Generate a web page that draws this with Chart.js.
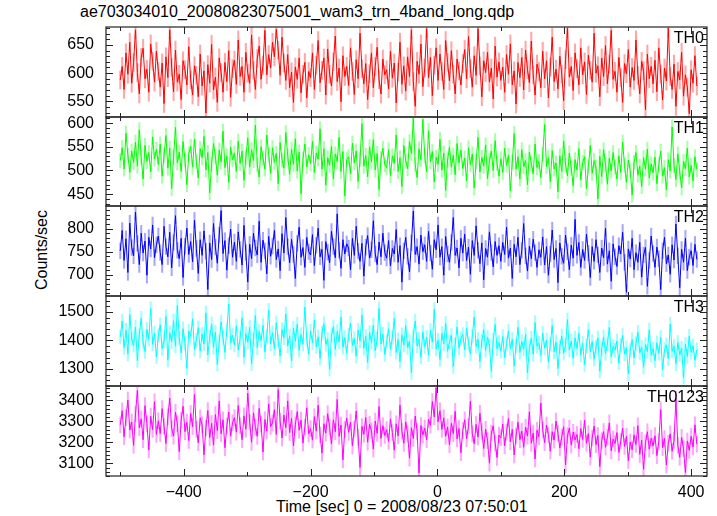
<!DOCTYPE html>
<html>
<head>
<meta charset="utf-8">
<script src="https://cdn.jsdelivr.net/npm/chart.js@4.4.1/dist/chart.umd.min.js"></script>
<style>
  html, body { margin: 0; padding: 0; background: #fff; }
  #wrap { position: relative; width: 717px; height: 516px; overflow: hidden; font-family: "Liberation Sans", Arial, sans-serif; }
  #wrap canvas { position: absolute; left: 0; }
  .txt { position: absolute; white-space: nowrap; color: #000; font-size: 16px; line-height: 18px; }
</style>
</head>
<body>
<div id="wrap">
  <div class="txt" style="left:80px; top:3px;">ae703034010_20080823075001_wam3_trn_4band_long.qdp</div>
  <div class="txt" style="left:42px; top:250px; transform: translate(-50%, -50%) rotate(-90deg);">Counts/sec</div>
  <div class="txt" style="left:276px; top:498px;">Time [sec] 0 = 2008/08/23 07:50:01</div>
</div>
<script>
// bins: 3 s wide, first bin at -500 s
const binStart = -500
const binSize = 3

const th0 = [
  588, 612, 571, 636, 598, 655, 582, 619, 677, 601, 563, 628, 644, 590, 607, 566, 652, 621, 584, 639,
  603, 575, 618, 546, 629, 592, 677, 610, 567, 641, 584, 598, 553, 622, 606, 579, 647, 588, 561, 613,
  596, 558, 634, 577, 604, 529, 615, 582, 651, 570, 593, 548, 627, 601, 566, 619, 585, 640, 557, 608,
  623, 580, 659, 594, 612, 566, 637, 600, 582, 668, 605, 571, 626, 648, 589, 614, 676, 597, 633, 609,
  655, 629, 678, 641, 596, 664, 618, 587, 633, 574, 602, 548, 611, 589, 627, 565, 598, 619, 556, 603,
  592, 636, 571, 614, 658, 583, 605, 627, 561, 643, 598, 577, 620, 666, 585, 609, 549, 631, 594, 612,
  578, 645, 603, 562, 624, 590, 671, 608, 581, 617, 553, 599, 636, 574, 612, 646, 588, 563, 625, 597,
  606, 572, 639, 591, 618, 547, 602, 655, 580, 613, 568, 629, 594, 677, 585, 541, 621, 598, 652, 576,
  609, 679, 592, 628, 560, 614, 645, 587, 634, 603, 571, 658, 619, 586, 640, 598, 563, 625, 604, 579,
  617, 642, 590, 665, 608, 575, 631, 596, 679, 613, 558, 622, 601, 637, 584, 609, 554, 648, 593, 620,
  587, 611, 566, 633, 598, 652, 579, 604, 545, 619, 592, 628, 570, 641, 606, 583, 657, 597, 561, 616,
  603, 574, 639, 590, 622, 556, 611, 664, 585, 607, 572, 630, 598, 551, 624, 680, 593, 612, 569, 636,
  608, 579, 645, 597, 620, 562, 632, 605, 584, 671, 600, 613, 558, 627, 594, 649, 581, 616, 676, 589,
  603, 566, 628, 592, 548, 617, 599, 642, 575, 610, 587, 659, 596, 563, 621, 604, 535, 634, 590, 612,
  581, 623, 567, 645, 598, 552, 609, 586, 680, 594, 571, 616, 541, 603, 588, 637, 559, 597, 575, 528,
  606, 582, 631, 577
]
const th1 = [
  521, 548, 503, 579, 532, 496, 541, 517, 560, 509, 586, 527, 482, 553, 519, 538, 497, 571, 524, 545,
  513, 556, 488, 532, 574, 505, 547, 462, 528, 591, 516, 539, 498, 561, 522, 470, 535, 551, 507, 566,
  519, 484, 546, 527, 572, 501, 538, 453, 514, 557, 529, 490, 543, 518, 583, 506, 531, 475, 549, 523,
  537, 498, 562, 515, 541, 479, 528, 569, 507, 544, 521, 596, 512, 486, 550, 526, 503, 575, 533, 494,
  548, 517, 536, 472, 559, 522, 505, 580, 531, 492, 545, 513, 567, 499, 539, 451, 524, 556, 508, 533,
  515, 562, 496, 537, 524, 588, 503, 546, 469, 527, 511, 551, 482, 535, 519, 570, 498, 540, 446, 523,
  529, 493, 558, 516, 541, 477, 523, 599, 509, 532, 487, 550, 518, 565, 501, 536, 460, 525, 547, 512,
  506, 544, 489, 531, 515, 575, 498, 527, 466, 553, 520, 504, 561, 536, 611, 512, 485, 546, 523, 608,
  531, 497, 584, 519, 540, 476, 528, 513, 566, 501, 537, 458, 522, 549, 507, 532, 491, 557, 516, 543,
  504, 526, 478, 548, 512, 535, 463, 519, 570, 497, 528, 509, 554, 483, 521, 541, 500, 563, 515, 488,
  525, 496, 547, 511, 532, 457, 518, 578, 503, 529, 482, 544, 508, 521, 470, 539, 514, 493, 556, 506,
  519, 485, 534, 597, 508, 527, 476, 542, 503, 516, 455, 531, 498, 562, 512, 489, 537, 505, 468, 523,
  501, 546, 480, 517, 529, 462, 508, 553, 494, 521, 506, 440, 530, 487, 544, 513, 471, 526, 499, 538,
  507, 482, 531, 496, 560, 511, 475, 522, 500, 448, 517, 538, 490, 509, 466, 527, 503, 545, 484, 514,
  495, 528, 472, 512, 541, 488, 506, 459, 523, 499, 592, 510, 481, 535, 497, 463, 519, 504, 547, 486,
  511, 478, 529, 502
]
const th2 = [
  752, 796, 731, 778, 705, 812, 759, 741, 836, 768, 722, 790, 747, 773, 699, 781, 756, 808, 737, 765,
  784, 748, 722, 805, 761, 739, 792, 715, 770, 828, 753, 735, 779, 694, 762, 801, 744, 772, 728, 818,
  757, 703, 776, 742, 795, 751, 668, 769, 733, 811, 760, 725, 786, 839, 746, 774, 710, 763, 799, 738,
  771, 729, 793, 755, 721, 807, 748, 684, 766, 735, 790, 758, 743, 816, 727, 775, 752, 702, 783, 740,
  762, 796, 733, 756, 709, 789, 747, 824, 761, 726, 777, 744, 692, 768, 803, 738, 759, 716, 781, 750,
  743, 787, 720, 764, 801, 739, 755, 688, 772, 749, 726, 794, 761, 737, 832, 753, 714, 776, 745, 767,
  758, 711, 779, 742, 805, 751, 729, 768, 697, 760, 785, 736, 754, 817, 745, 722, 771, 739, 790, 748,
  736, 774, 719, 757, 745, 798, 727, 763, 684, 752, 781, 740, 706, 769, 838, 744, 761, 723, 786, 750,
  765, 729, 794, 747, 712, 776, 754, 808, 738, 761, 699, 783, 745, 727, 770, 824, 742, 758, 715, 779,
  747, 788, 731, 760, 701, 774, 742, 806, 753, 724, 769, 689, 757, 738, 793, 748, 717, 772, 742, 763,
  729, 770, 744, 803, 736, 758, 692, 766, 739, 781, 722, 753, 811, 741, 708, 762, 735, 777, 748, 716,
  754, 738, 782, 721, 761, 699, 745, 797, 733, 757, 683, 769, 740, 725, 786, 750, 711, 764, 736, 820,
  742, 770, 716, 755, 731, 788, 747, 694, 761, 729, 776, 743, 705, 758, 737, 801, 723, 752, 686, 767,
  739, 718, 763, 745, 792, 727, 662, 756, 734, 779, 711, 748, 727, 770, 695, 743, 759, 675, 731, 784,
  746, 716, 760, 735, 668, 752, 781, 724, 743, 701, 765, 732, 810, 741, 672, 755, 727, 779, 709, 738,
  752, 720, 766, 733
]
const th3 = [
  1412, 1468, 1375, 1436, 1352, 1491, 1405, 1383, 1447, 1329, 1420, 1478, 1394, 1361, 1439, 1404, 1512, 1386, 1426, 1343,
  1417, 1455, 1372, 1398, 1484, 1331, 1427, 1395, 1469, 1380, 1523, 1408, 1356, 1441, 1390, 1302, 1433, 1414, 1476, 1369,
  1401, 1445, 1363, 1422, 1387, 1497, 1349, 1411, 1458, 1376, 1429, 1316, 1396, 1465, 1410, 1358, 1437, 1528, 1392, 1419,
  1384, 1451, 1366, 1408, 1479, 1341, 1424, 1393, 1446, 1318, 1402, 1487, 1374, 1431, 1399, 1453, 1360, 1415, 1506, 1388,
  1427, 1371, 1462, 1400, 1345, 1438, 1409, 1493, 1381, 1416, 1328, 1443, 1397, 1457, 1365, 1421, 1388, 1517, 1404, 1352,
  1433, 1392, 1471, 1378, 1413, 1337, 1426, 1459, 1386, 1404, 1299, 1418, 1448, 1369, 1431, 1395, 1482, 1376, 1410, 1355,
  1419, 1461, 1382, 1407, 1345, 1436, 1398, 1489, 1372, 1415, 1323, 1428, 1393, 1454, 1364, 1405, 1512, 1387, 1422, 1350,
  1396, 1441, 1369, 1411, 1477, 1358, 1403, 1326, 1420, 1384, 1452, 1375, 1397, 1287, 1416, 1468, 1381, 1404, 1341, 1430,
  1378, 1412, 1349, 1436, 1394, 1509, 1370, 1401, 1333, 1425, 1388, 1460, 1362, 1395, 1418, 1308, 1386, 1447, 1374, 1406,
  1421, 1367, 1443, 1390, 1352, 1415, 1482, 1379, 1404, 1326, 1397, 1438, 1365, 1411, 1383, 1292, 1402, 1456, 1371, 1393,
  1362, 1414, 1340, 1389, 1433, 1371, 1404, 1310, 1382, 1446, 1358, 1397, 1369, 1421, 1286, 1375, 1408, 1352, 1463, 1380,
  1391, 1347, 1426, 1373, 1401, 1324, 1387, 1452, 1360, 1395, 1301, 1378, 1416, 1355, 1384, 1473, 1366, 1398, 1337, 1409,
  1372, 1425, 1349, 1390, 1315, 1381, 1438, 1361, 1396, 1334, 1377, 1409, 1292, 1370, 1412, 1354, 1388, 1446, 1343, 1379,
  1366, 1398, 1321, 1383, 1418, 1352, 1374, 1283, 1367, 1403, 1338, 1389, 1429, 1357, 1376, 1306, 1385, 1361, 1437, 1348,
  1371, 1329, 1392, 1355, 1411, 1297, 1368, 1384, 1336, 1457, 1362, 1379, 1318, 1393, 1350, 1373, 1270, 1387, 1344, 1415,
  1358, 1381, 1330, 1367
]
const th0123 = [
  3284, 3351, 3227, 3318, 3402, 3259, 3297, 3186, 3336, 3448, 3270, 3312, 3213, 3375, 3289, 3164, 3325, 3261, 3394, 3238,
  3303, 3242, 3361, 3277, 3195, 3322, 3411, 3266, 3230, 3344, 3289, 3156, 3307, 3372, 3251, 3296, 3209, 3338, 3275, 3429,
  3262, 3198, 3317, 3284, 3141, 3269, 3352, 3223, 3291, 3187, 3333, 3256, 3398, 3241, 3308, 3175, 3279, 3345, 3230, 3294,
  3318, 3249, 3376, 3280, 3213, 3327, 3263, 3435, 3296, 3201, 3341, 3272, 3229, 3362, 3287, 3154, 3309, 3254, 3384, 3276,
  3293, 3356, 3238, 3452, 3302, 3221, 3331, 3270, 3398, 3247, 3315, 3183, 3284, 3347, 3258, 3306, 3197, 3273, 3365, 3240,
  3266, 3211, 3323, 3254, 3378, 3236, 3149, 3289, 3244, 3337, 3272, 3192, 3308, 3251, 3405, 3229, 3283, 3117, 3262, 3316,
  3248, 3297, 3183, 3264, 3350, 3225, 3081, 3276, 3239, 3319, 3201, 3287, 3256, 3168, 3302, 3243, 3371, 3219, 3280, 3233,
  3261, 3205, 3312, 3247, 3163, 3289, 3231, 3378, 3254, 3196, 3298, 3240, 3125, 3270, 3219, 3326, 3252, 3054, 3281, 3236,
  3268, 3213, 3310, 3282, 3395, 3322, 3461, 3298, 3351, 3262, 3317, 3229, 3274, 3189, 3291, 3242, 3348, 3217, 3266, 3151,
  3257, 3308, 3218, 3277, 3396, 3241, 3193, 3286, 3226, 3339, 3252, 3171, 3263, 3208, 3101, 3244, 3279, 3197, 3128, 3235,
  3222, 3288, 3184, 3249, 3314, 3203, 3262, 3140, 3231, 3297, 3213, 3254, 3177, 3273, 3230, 3346, 3196, 3245, 3121, 3258,
  3227, 3388, 3260, 3199, 3283, 3236, 3158, 3251, 3211, 3302, 3243, 3174, 3226, 3275, 3093, 3232, 3268, 3187, 3249, 3212,
  3238, 3170, 3266, 3214, 3306, 3196, 3242, 3130, 3221, 3278, 3189, 3233, 3085, 3209, 3252, 3177, 3225, 3293, 3160, 3216,
  3195, 3247, 3152, 3206, 3268, 3181, 3229, 3113, 3202, 3165, 3236, 3190, 3280, 3143, 3211, 3072, 3198, 3251, 3168, 3220,
  3183, 3232, 3137, 3204, 3356, 3175, 3219, 3092, 3196, 3241, 3158, 3210, 3405, 3186, 3129, 3224, 3170, 3056, 3207, 3162,
  3229, 3178, 3284, 3191
]

// 1-sigma error per bin, roughly constant per band
const th0Err = 16
const th1Err = 15
const th2Err = 17
const th3Err = 24
const th0123Err = 38

const bandNames = ["TH0", "TH1", "TH2", "TH3", "TH0123"]
const xTickLabels = [-400, -200, 0, 200, 400]

const panels = [
  { name: bandNames[0], values: th0, err: th0Err, color: "#ff0000", bar: "rgba(255,60,60,0.45)", min: 522, max: 682, major: 50, minor: 10 },
  { name: bandNames[1], values: th1, err: th1Err, color: "#00ff00", bar: "rgba(60,255,60,0.45)", min: 425, max: 613, major: 50, minor: 10 },
  { name: bandNames[2], values: th2, err: th2Err, color: "#0000ff", bar: "rgba(60,60,255,0.45)", min: 654, max: 849, major: 50, minor: 10 },
  { name: bandNames[3], values: th3, err: th3Err, color: "#00ffff", bar: "rgba(60,255,255,0.5)", min: 1240, max: 1556, major: 100, minor: 20 },
  { name: bandNames[4], values: th0123, err: th0123Err, color: "#ff00ff", bar: "rgba(255,60,255,0.45)", min: 3040, max: 3469, major: 100, minor: 20 }
]

const panelTop = [27, 117, 206, 296, 386]
const plotBottom = 476
const plotLeft = 106
const plotRight = 707
const W = 717, H = 516
const pad = 3

Chart.defaults.font.family = '"Liberation Sans", Arial, sans-serif'
Chart.defaults.font.size = 16
Chart.defaults.color = "#000"

// qdp-style frame with inward ticks on all four sides
const qdpFrame = {
  id: "qdpFrame",
  afterDatasetsDraw(chart, args, opts) {
    const { ctx, chartArea: a, scales: { x, y } } = chart
    ctx.save()
    ctx.strokeStyle = "#222"
    ctx.lineWidth = 1.2
    ctx.strokeRect(a.left, a.top, a.right - a.left, a.bottom - a.top)
    ctx.lineWidth = 1
    ctx.beginPath()
    for (let v = -500; v <= 400; v += 100) {
      const px = Math.round(x.getPixelForValue(v)) + 0.5
      const len = v % 200 === 0 ? 7 : 4
      ctx.moveTo(px, a.bottom); ctx.lineTo(px, a.bottom - len)
      ctx.moveTo(px, a.top); ctx.lineTo(px, a.top + len)
    }
    for (let v = Math.ceil(y.min / opts.minor) * opts.minor; v <= y.max; v += opts.minor) {
      const py = Math.round(y.getPixelForValue(v)) + 0.5
      const len = v % opts.major === 0 ? 7 : 4
      ctx.moveTo(a.left, py); ctx.lineTo(a.left + len, py)
      ctx.moveTo(a.right, py); ctx.lineTo(a.right - len, py)
    }
    ctx.stroke()
    ctx.restore()
  }
}

const wrap = document.getElementById("wrap")
const nBins = Math.max(...panels.map(p => p.values.length))
const timeSec = Array.from({ length: nBins }, (_, i) => binStart + i * binSize)

panels.forEach((p, i) => {
  const last = i === panels.length - 1
  const top = panelTop[i] - pad
  const bottom = last ? H : panelTop[i + 1] + pad
  const canvas = document.createElement("canvas")
  canvas.width = W
  canvas.height = bottom - top
  canvas.style.top = top + "px"
  wrap.appendChild(canvas)

  const label = document.createElement("div")
  label.className = "txt"
  label.textContent = p.name
  label.style.right = (W - 704) + "px"
  label.style.top = (panelTop[i] + 2) + "px"
  wrap.appendChild(label)

  new Chart(canvas, {
    type: "line",
    data: {
      datasets: [
        {
          type: "line",
          data: p.values.map((v, k) => ({ x: timeSec[k], y: v })),
          borderColor: p.color,
          borderWidth: 1,
          pointRadius: 0,
          tension: 0,
          order: 0
        },
        {
          type: "bar",
          data: p.values.map((v, k) => ({ x: timeSec[k], y: [v - p.err, v + p.err] })),
          backgroundColor: p.bar,
          barThickness: 1.4,
          order: 1
        }
      ]
    },
    options: {
      responsive: false,
      animation: false,
      layout: { padding: { top: pad, bottom: last ? 0 : pad, left: 0, right: W - plotRight } },
      plugins: {
        legend: { display: false },
        tooltip: { enabled: false },
        qdpFrame: { major: p.major, minor: p.minor }
      },
      scales: {
        x: {
          type: "linear",
          min: -522.5,
          max: 425,
          offset: false,
          display: last,
          grid: { display: false, drawTicks: false, offset: false },
          border: { display: false },
          ticks: {
            stepSize: 200,
            includeBounds: false,
            padding: 7,
            maxRotation: 0,
            autoSkip: false,
            callback: (v) => xTickLabels.includes(v) ? (v < 0 ? "\u2212" + (-v) : String(v)) : ""
          },
          afterFit: (s) => {
            s.height = last ? H - plotBottom : 0
            s.paddingLeft = 0
            s.paddingRight = 0
          }
        },
        y: {
          min: p.min,
          max: p.max,
          grid: { display: false, drawTicks: false },
          border: { display: false },
          ticks: { stepSize: p.major, includeBounds: false, padding: 12, autoSkip: false, callback: (v) => String(v) },
          afterFit: (s) => {
            s.width = plotLeft
            s.paddingTop = 0
            s.paddingBottom = 0
          }
        }
      }
    },
    plugins: [qdpFrame]
  })
})
</script>
</body>
</html>
